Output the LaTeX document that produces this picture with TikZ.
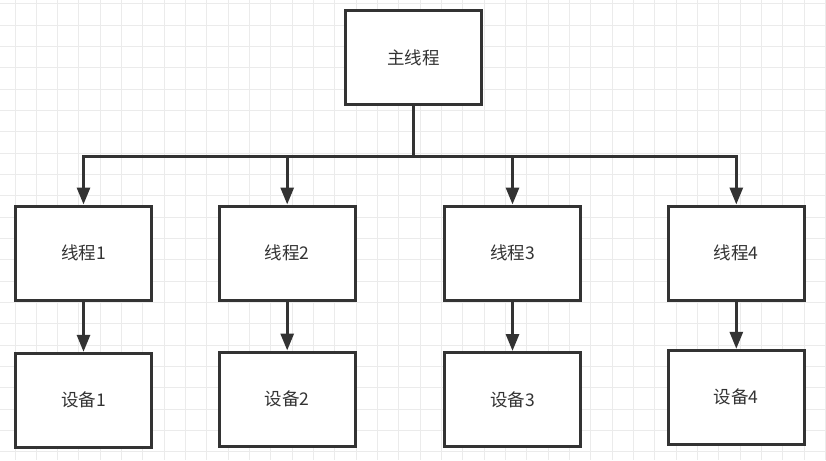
\documentclass[tikz,border=0pt]{standalone}
\usepackage{fontspec}
\usepackage{tikz}
\usetikzlibrary{arrows.meta}
\newfontfamily\cjk{Noto Sans CJK SC}
\definecolor{lineclr}{rgb}{0.2, 0.2, 0.2}
\definecolor{txtclr}{rgb}{0.2, 0.2, 0.2}
\definecolor{gridclr}{rgb}{0.92, 0.92, 0.92}
\tikzset{ %
  ,>={Triangle[length=17pt, width=13pt]}
  ,every node/.style={font=\cjk\fontsize{17.5}{20}\selectfont, text=txtclr}
  ,block/.style={draw=lineclr, fill=white, line width=3pt, minimum width=136pt, minimum height=94pt, inner sep=0}
  ,link/.style={draw=lineclr, line width=3pt}
  ,gridline/.style={draw=gridclr, line width=1pt}
}

\begin{document}
\begin{tikzpicture}[x=1pt, y=-1pt]
      \useasboundingbox (0,0) rectangle (826,460);
      % background grid
      \foreach \i in {0,...,38} \draw[gridline] ({15+21.33*\i},0) -- ({15+21.33*\i},460);
      \foreach \i in {0,...,21} \draw[gridline] (0,{4+21.33*\i}) -- (826,{4+21.33*\i});
      \node[block] (main) at (413.3,57.5) {主线程};
      \foreach \n/\x/\y in {1/83.5/400.3, 2/287.2/399, 3/512.5/399.5, 4/736.3/397.3} {
        \node[block] (t\n) at (\x,253) {线程\n};
        \node[block] (d\n) at (\x,\y) {设备\n};
        \draw[link,->] (t\n) -- (d\n);
      }
      \coordinate (bus) at (413.3,156.7);
      \draw[link] (main) -- (bus);
      \draw[link, line cap=rect] (bus -| t1) -- (bus -| t4);
      \foreach \n in {1,...,4} \draw[link,->] (bus -| t\n) -- (t\n.north);
    \end{tikzpicture}
\end{document}
